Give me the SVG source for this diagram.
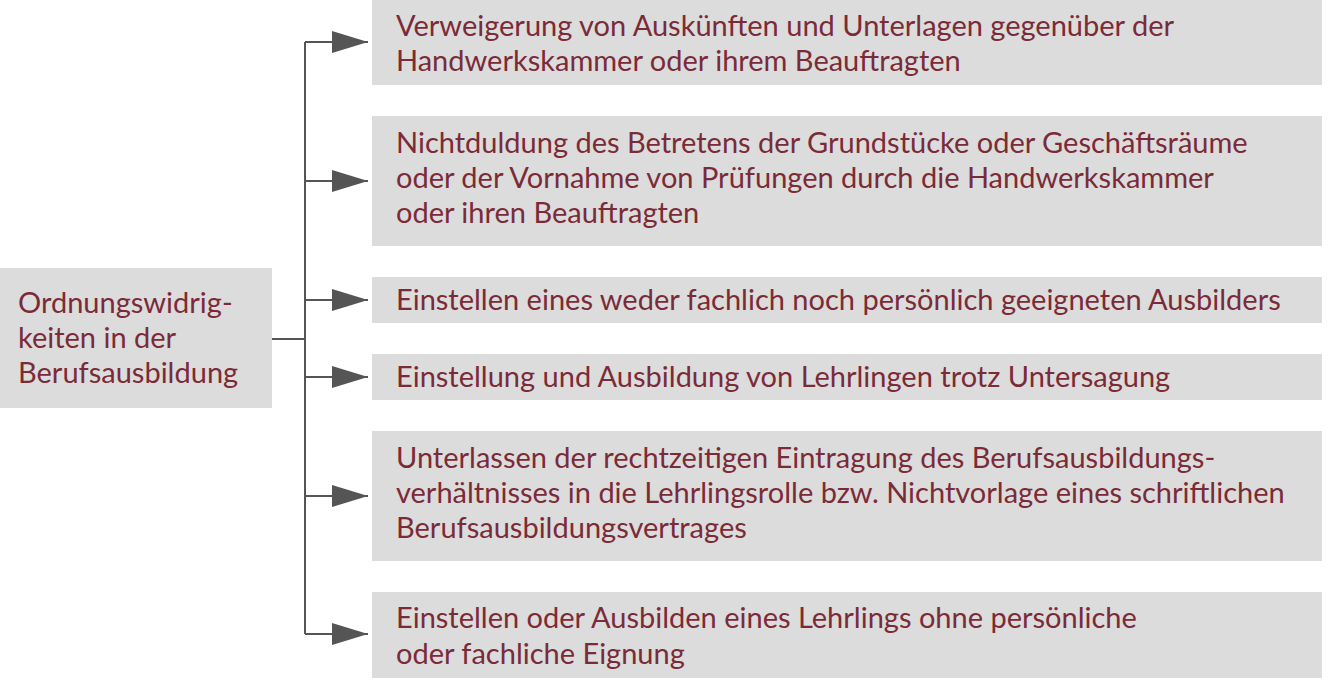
<svg xmlns="http://www.w3.org/2000/svg" width="1328" height="680" viewBox="0 0 1328 680">
<style>
.box{fill:#dcdcdc}
.t{font-family:Lato,"Open Sans",sans-serif;font-size:29px;fill:#7b2b37}
.ln{stroke:#555;stroke-width:2;fill:none}
</style>
<defs>
<marker id="ah" markerUnits="userSpaceOnUse" markerWidth="38" markerHeight="22" refX="36" refY="11" orient="auto">
<path d="M0,0 L36,11 L0,22 Z" fill="#555"/>
</marker>
</defs>
<rect width="1328" height="680" fill="#fff"/>
<g id="connectors">
<path class="ln" d="M272,339 H305"/>
<path class="ln" d="M305,42 V634"/>
<path class="ln" d="M305,42 H368" marker-end="url(#ah)"/>
<path class="ln" d="M305,181 H368" marker-end="url(#ah)"/>
<path class="ln" d="M305,300 H368" marker-end="url(#ah)"/>
<path class="ln" d="M305,377 H368" marker-end="url(#ah)"/>
<path class="ln" d="M305,496 H368" marker-end="url(#ah)"/>
<path class="ln" d="M305,634 H368" marker-end="url(#ah)"/>
</g>
<g id="root">
<rect class="box" x="0" y="268" width="272" height="140"/>
<text class="t" x="18" y="313">Ordnungswidrig-</text>
<text class="t" x="18" y="348">keiten in der</text>
<text class="t" x="18" y="383">Berufsausbildung</text>
</g>
<g id="n1">
<rect class="box" x="372" y="0" width="950" height="85"/>
<text class="t" x="396" y="36">Verweigerung von Auskünften und Unterlagen gegenüber der</text>
<text class="t" x="396" y="71">Handwerkskammer oder ihrem Beauftragten</text>
</g>
<g id="n2">
<rect class="box" x="372" y="116" width="950" height="130"/>
<text class="t" x="396" y="153">Nichtduldung des Betretens der Grundstücke oder Geschäftsräume</text>
<text class="t" x="396" y="188">oder der Vornahme von Prüfungen durch die Handwerkskammer</text>
<text class="t" x="396" y="223">oder ihren Beauftragten</text>
</g>
<g id="n3">
<rect class="box" x="372" y="277" width="950" height="46"/>
<text class="t" x="396" y="310">Einstellen eines weder fachlich noch persönlich geeigneten Ausbilders</text>
</g>
<g id="n4">
<rect class="box" x="372" y="354" width="950" height="46"/>
<text class="t" x="396" y="387">Einstellung und Ausbildung von Lehrlingen trotz Untersagung</text>
</g>
<g id="n5">
<rect class="box" x="372" y="431" width="950" height="130"/>
<text class="t" x="396" y="468">Unterlassen der rechtzeitigen Eintragung des Berufsausbildungs-</text>
<text class="t" x="396" y="503">verhältnisses in die Lehrlingsrolle bzw. Nichtvorlage eines schriftlichen</text>
<text class="t" x="396" y="538">Berufsausbildungsvertrages</text>
</g>
<g id="n6">
<rect class="box" x="372" y="592" width="950" height="86"/>
<text class="t" x="396" y="628">Einstellen oder Ausbilden eines Lehrlings ohne persönliche</text>
<text class="t" x="396" y="664">oder fachliche Eignung</text>
</g>
</svg>
